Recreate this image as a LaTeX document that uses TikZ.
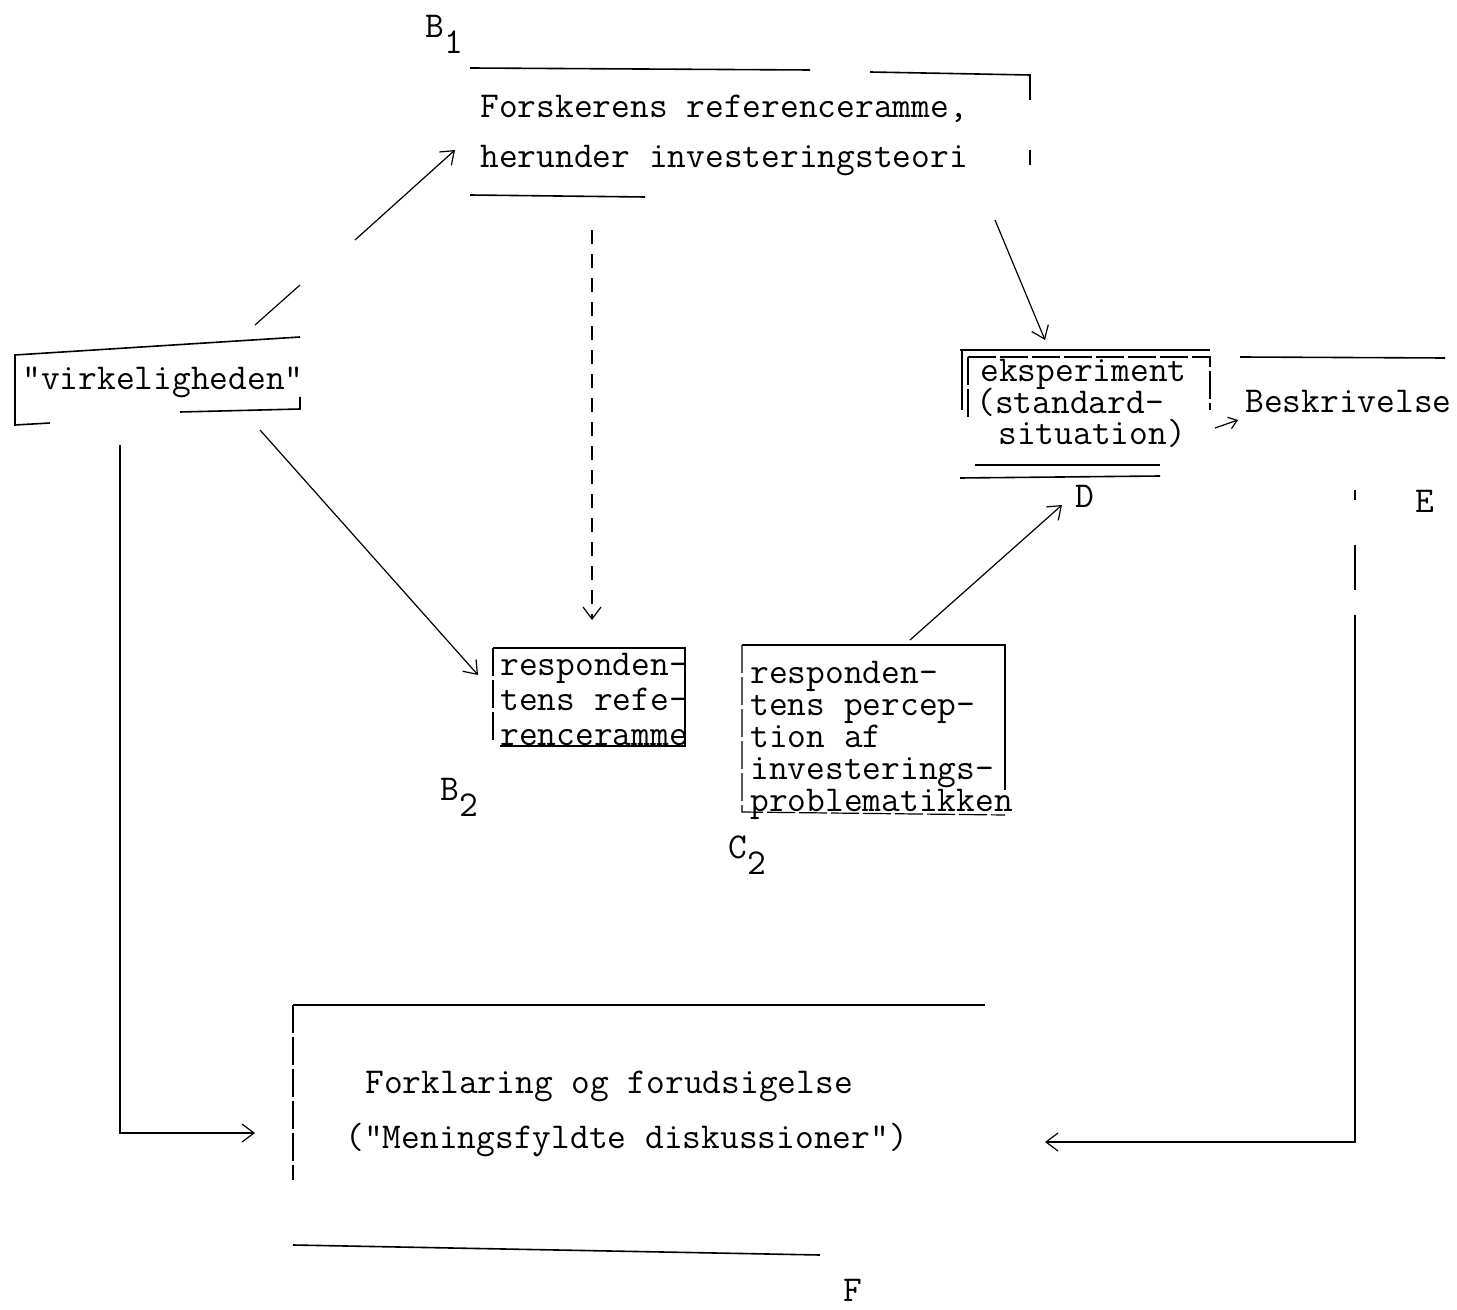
\documentclass[tikz,border=0pt]{standalone}
\usepackage{fontspec}
\usetikzlibrary{arrows.meta}
\AtBeginDocument{\lineskiplimit=-100pt}
\begin{document}
\begin{tikzpicture}[x=0.5pt,y=-0.5pt,
  tw/.style={font=\ttfamily\fontsize{18.2}{22}\selectfont, inner sep=0pt, anchor=base west},
  blk/.style={tw, align=left, font={\ttfamily\fontsize{18.2}{#1}\selectfont}},
  boxline/.style={line width=0.8pt},
  faint/.style={line width=0.6pt, dash pattern=on 14pt off 2pt},
  conn/.style={line width=0.6pt, -{Straight Barb[length=6pt,width=9pt]}},
  dconn/.style={conn, dash pattern=on 7pt off 5pt}]
\useasboundingbox (0,0) rectangle (1457,1310);
% labels
\node[tw] (lB1) at (425,38) {B\raisebox{-8pt}{1}};
\node[tw] (lB2) at (440,800) {B\raisebox{-8pt}{2}};
\node[tw] (lC2) at (728,858) {C\raisebox{-8pt}{2}};
\node[tw] (lD) at (1075,508) {D};
\node[tw] (lE) at (1415,513) {E};
\node[tw] (lF) at (843,1301) {F};
% texts (base anchor = baseline of last line)
\node[blk=25pt] (b1) at (480,168) {Forskerens referenceramme,\\herunder investeringsteori};
\node[tw] (virk) at (22,390) {"virkeligheden"};
\node[blk=17.5pt] (b2) at (500,745) {responden-\\tens refe-\\renceramme};
\node[blk=16pt] (c2) at (750,811) {responden-\\tens percep-\\tion af\\investerings-\\problematikken};
\node[blk=15.8pt] (d) at (976,445) {\hspace*{2pt}eksperiment\\(standard-\\\hspace*{11pt}situation)};
\node[tw] (besk) at (1245,413) {Beskrivelse};
\node[blk=27.5pt] (f) at (345,1148) {\hspace*{10pt}Forklaring og forudsigelse\\("Meningsfyldte diskussioner")};
% box outlines
% B1
\draw[boxline] (470,68) -- (810,70);
\draw[boxline] (870,72) -- (1030,75) -- (1030,100);
\draw[boxline] (1030,150) -- (1030,165);
\draw[boxline] (470,195) -- (645,197);
% virkeligheden
\draw[boxline] (300,337) -- (15,355) -- (15,425) -- (50,423);
\draw[boxline] (180,412) -- (300,409) -- (300,397);
% B2
\draw[boxline] (493,648) -- (685,648) -- (685,746) -- (500,746);
\draw[faint] (493,648) -- (493,740);
% C2
\draw[boxline] (742,645) -- (1005,645) -- (1005,790);
\draw[faint] (742,645) -- (742,812) -- (1005,815);
% D
\draw[boxline] (960,350) -- (1210,350);
\draw[faint] (968,357) -- (1210,357) -- (1210,410);
\draw[boxline] (962,350) -- (962,410);
\draw[faint] (968,357) -- (968,420);
\draw[boxline] (975,465) -- (1160,465);
\draw[boxline] (960,478) -- (1160,476);
% Beskrivelse
\draw[boxline] (1240,357) -- (1445,358);
% F
\draw[boxline] (293,1005) -- (985,1005);
\draw[faint] (293,1005) -- (293,1180);
\draw[boxline] (293,1245) -- (820,1255);
% connector end points
\coordinate (v1) at (255,325);
\coordinate (v1g) at (300,285);
\coordinate (v1h) at (355,240);
\coordinate (b1in) at (455,150);
\coordinate (b1dn) at (592,230);
\coordinate (b2top) at (592,620);
\coordinate (b1r) at (995,220);
\coordinate (dtop) at (1045,340);
\coordinate (v2) at (260,430);
\coordinate (b2in) at (478,675);
\coordinate (c2top) at (910,640);
\coordinate (dbot) at (1062,505);
\coordinate (dr) at (1215,428);
\coordinate (beskin) at (1238,420);
\coordinate (v3) at (120,445);
\coordinate (fin) at (255,1133);
\coordinate (e1) at (1355,490);
\coordinate (e1a) at (1355,500);
\coordinate (e2) at (1355,545);
\coordinate (e2a) at (1355,590);
\coordinate (e3) at (1355,615);
\coordinate (fout) at (1045,1142);
% connectors
\draw[line width=0.6pt] (v1) -- (v1g);
\draw[conn] (v1h) -- (b1in);
\draw[dconn] (b1dn) -- (b2top);
\draw[conn] (b1r) -- (dtop);
\draw[conn] (v2) -- (b2in);
\draw[conn] (c2top) -- (dbot);
\draw[conn, -{Straight Barb[length=4pt,width=6pt]}] (dr) -- (beskin);
\draw[conn] (v3) |- (fin);
\draw[line width=0.6pt] (e1) -- (e1a) (e2) -- (e2a);
\draw[conn] (e3) |- (fout);
\end{tikzpicture}
\end{document}
